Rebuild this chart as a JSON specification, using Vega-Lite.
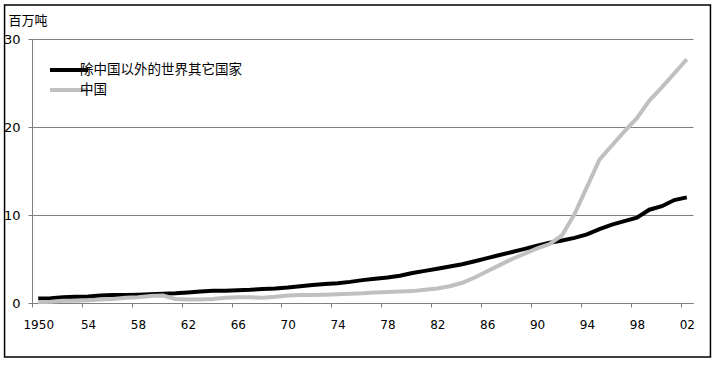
{
  "$schema": "https://vega.github.io/schema/vega-lite/v6.json",
  "width": 661,
  "height": 264,
  "autosize": {"type": "none"},
  "padding": {"left": 32, "top": 39, "right": 26, "bottom": 62},
  "background": "white",
  "config": {"view": {"stroke": null}, "font": "DejaVu Sans"},
  "datasets": {
    "fish": [
      {"year": 1950, "series": "除中国以外的世界其它国家", "value": 0.5},
      {"year": 1951, "series": "除中国以外的世界其它国家", "value": 0.55},
      {"year": 1952, "series": "除中国以外的世界其它国家", "value": 0.65},
      {"year": 1953, "series": "除中国以外的世界其它国家", "value": 0.7},
      {"year": 1954, "series": "除中国以外的世界其它国家", "value": 0.75},
      {"year": 1955, "series": "除中国以外的世界其它国家", "value": 0.85},
      {"year": 1956, "series": "除中国以外的世界其它国家", "value": 0.9},
      {"year": 1957, "series": "除中国以外的世界其它国家", "value": 0.9},
      {"year": 1958, "series": "除中国以外的世界其它国家", "value": 0.95},
      {"year": 1959, "series": "除中国以外的世界其它国家", "value": 1.0},
      {"year": 1960, "series": "除中国以外的世界其它国家", "value": 1.05},
      {"year": 1961, "series": "除中国以外的世界其它国家", "value": 1.1},
      {"year": 1962, "series": "除中国以外的世界其它国家", "value": 1.2},
      {"year": 1963, "series": "除中国以外的世界其它国家", "value": 1.3},
      {"year": 1964, "series": "除中国以外的世界其它国家", "value": 1.4},
      {"year": 1965, "series": "除中国以外的世界其它国家", "value": 1.4},
      {"year": 1966, "series": "除中国以外的世界其它国家", "value": 1.45},
      {"year": 1967, "series": "除中国以外的世界其它国家", "value": 1.5},
      {"year": 1968, "series": "除中国以外的世界其它国家", "value": 1.6},
      {"year": 1969, "series": "除中国以外的世界其它国家", "value": 1.65},
      {"year": 1970, "series": "除中国以外的世界其它国家", "value": 1.75},
      {"year": 1971, "series": "除中国以外的世界其它国家", "value": 1.9},
      {"year": 1972, "series": "除中国以外的世界其它国家", "value": 2.05},
      {"year": 1973, "series": "除中国以外的世界其它国家", "value": 2.15},
      {"year": 1974, "series": "除中国以外的世界其它国家", "value": 2.25},
      {"year": 1975, "series": "除中国以外的世界其它国家", "value": 2.4},
      {"year": 1976, "series": "除中国以外的世界其它国家", "value": 2.6},
      {"year": 1977, "series": "除中国以外的世界其它国家", "value": 2.75},
      {"year": 1978, "series": "除中国以外的世界其它国家", "value": 2.9},
      {"year": 1979, "series": "除中国以外的世界其它国家", "value": 3.1},
      {"year": 1980, "series": "除中国以外的世界其它国家", "value": 3.4},
      {"year": 1981, "series": "除中国以外的世界其它国家", "value": 3.65},
      {"year": 1982, "series": "除中国以外的世界其它国家", "value": 3.9},
      {"year": 1983, "series": "除中国以外的世界其它国家", "value": 4.15},
      {"year": 1984, "series": "除中国以外的世界其它国家", "value": 4.4},
      {"year": 1985, "series": "除中国以外的世界其它国家", "value": 4.75},
      {"year": 1986, "series": "除中国以外的世界其它国家", "value": 5.1},
      {"year": 1987, "series": "除中国以外的世界其它国家", "value": 5.45},
      {"year": 1988, "series": "除中国以外的世界其它国家", "value": 5.8},
      {"year": 1989, "series": "除中国以外的世界其它国家", "value": 6.15},
      {"year": 1990, "series": "除中国以外的世界其它国家", "value": 6.5},
      {"year": 1991, "series": "除中国以外的世界其它国家", "value": 6.85},
      {"year": 1992, "series": "除中国以外的世界其它国家", "value": 7.1},
      {"year": 1993, "series": "除中国以外的世界其它国家", "value": 7.4},
      {"year": 1994, "series": "除中国以外的世界其它国家", "value": 7.8},
      {"year": 1995, "series": "除中国以外的世界其它国家", "value": 8.4},
      {"year": 1996, "series": "除中国以外的世界其它国家", "value": 8.9},
      {"year": 1997, "series": "除中国以外的世界其它国家", "value": 9.3},
      {"year": 1998, "series": "除中国以外的世界其它国家", "value": 9.7},
      {"year": 1999, "series": "除中国以外的世界其它国家", "value": 10.6},
      {"year": 2000, "series": "除中国以外的世界其它国家", "value": 11.0},
      {"year": 2001, "series": "除中国以外的世界其它国家", "value": 11.7},
      {"year": 2002, "series": "除中国以外的世界其它国家", "value": 12.0},
      {"year": 1950, "series": "中国", "value": 0.1},
      {"year": 1951, "series": "中国", "value": 0.15},
      {"year": 1952, "series": "中国", "value": 0.25},
      {"year": 1953, "series": "中国", "value": 0.25},
      {"year": 1954, "series": "中国", "value": 0.3},
      {"year": 1955, "series": "中国", "value": 0.4},
      {"year": 1956, "series": "中国", "value": 0.45},
      {"year": 1957, "series": "中国", "value": 0.6},
      {"year": 1958, "series": "中国", "value": 0.65},
      {"year": 1959, "series": "中国", "value": 0.8},
      {"year": 1960, "series": "中国", "value": 0.85},
      {"year": 1961, "series": "中国", "value": 0.45},
      {"year": 1962, "series": "中国", "value": 0.4},
      {"year": 1963, "series": "中国", "value": 0.4},
      {"year": 1964, "series": "中国", "value": 0.45},
      {"year": 1965, "series": "中国", "value": 0.6},
      {"year": 1966, "series": "中国", "value": 0.65},
      {"year": 1967, "series": "中国", "value": 0.65},
      {"year": 1968, "series": "中国", "value": 0.6},
      {"year": 1969, "series": "中国", "value": 0.7},
      {"year": 1970, "series": "中国", "value": 0.85},
      {"year": 1971, "series": "中国", "value": 0.9},
      {"year": 1972, "series": "中国", "value": 0.9},
      {"year": 1973, "series": "中国", "value": 0.95},
      {"year": 1974, "series": "中国", "value": 1.0},
      {"year": 1975, "series": "中国", "value": 1.05},
      {"year": 1976, "series": "中国", "value": 1.1},
      {"year": 1977, "series": "中国", "value": 1.2},
      {"year": 1978, "series": "中国", "value": 1.25},
      {"year": 1979, "series": "中国", "value": 1.3},
      {"year": 1980, "series": "中国", "value": 1.35},
      {"year": 1981, "series": "中国", "value": 1.5},
      {"year": 1982, "series": "中国", "value": 1.65},
      {"year": 1983, "series": "中国", "value": 1.9},
      {"year": 1984, "series": "中国", "value": 2.3},
      {"year": 1985, "series": "中国", "value": 2.9},
      {"year": 1986, "series": "中国", "value": 3.6},
      {"year": 1987, "series": "中国", "value": 4.3},
      {"year": 1988, "series": "中国", "value": 5.0},
      {"year": 1989, "series": "中国", "value": 5.6},
      {"year": 1990, "series": "中国", "value": 6.2},
      {"year": 1991, "series": "中国", "value": 6.7},
      {"year": 1992, "series": "中国", "value": 7.7},
      {"year": 1993, "series": "中国", "value": 10.1},
      {"year": 1994, "series": "中国", "value": 13.2},
      {"year": 1995, "series": "中国", "value": 16.3},
      {"year": 1996, "series": "中国", "value": 17.9},
      {"year": 1997, "series": "中国", "value": 19.5},
      {"year": 1998, "series": "中国", "value": 21.0},
      {"year": 1999, "series": "中国", "value": 23.0},
      {"year": 2000, "series": "中国", "value": 24.5},
      {"year": 2001, "series": "中国", "value": 26.1},
      {"year": 2002, "series": "中国", "value": 27.7}
    ],
    "frame": [{"name": "frame"}]
  },
  "layer": [
    {
      "data": {"name": "frame"},
      "mark": {"type": "rect", "filled": false, "stroke": "#000000", "strokeWidth": 1.5},
      "encoding": {
        "x": {"datum": 1947.3, "type": "quantitative"},
        "x2": {"datum": 2003.9},
        "y": {"datum": 33.86, "type": "quantitative"},
        "y2": {"datum": -6.14}
      }
    },
    {
      "data": {"name": "fish"},
      "mark": {"type": "line", "strokeWidth": 4},
      "encoding": {
        "x": {
          "field": "year",
          "type": "quantitative",
          "scale": {"domain": [1949.5, 2002.5], "nice": false, "zero": false},
          "axis": {
            "title": null,
            "values": [1949.5, 1950.5, 1951.5, 1952.5, 1953.5, 1954.5, 1955.5, 1956.5, 1957.5, 1958.5, 1959.5, 1960.5, 1961.5, 1962.5, 1963.5, 1964.5, 1965.5, 1966.5, 1967.5, 1968.5, 1969.5, 1970.5, 1971.5, 1972.5, 1973.5, 1974.5, 1975.5, 1976.5, 1977.5, 1978.5, 1979.5, 1980.5, 1981.5, 1982.5, 1983.5, 1984.5, 1985.5, 1986.5, 1987.5, 1988.5, 1989.5, 1990.5, 1991.5, 1992.5, 1993.5, 1994.5, 1995.5, 1996.5, 1997.5, 1998.5, 1999.5, 2000.5, 2001.5, 2002.5],
            "labelExpr": "(datum.value + 0.5 - 1950) % 4 == 0 ? (datum.value == 1949.5 ? '1950' : substring(toString(datum.value + 0.5), 2, 4)) : ''",
            "labelOffset": 6.24,
            "grid": false,
            "tickSize": 4,
            "tickColor": "#808080",
            "domainColor": "#808080",
            "labelFont": "DejaVu Sans",
            "labelFontSize": 12,
            "labelColor": "#000000",
            "labelPadding": 12,
            "labelOverlap": false,
            "labelFlush": false,
            "labelBound": false
          }
        },
        "y": {
          "field": "value",
          "type": "quantitative",
          "scale": {"domain": [0, 30], "nice": false},
          "axis": {
            "values": [0, 10, 20, 30],
            "grid": true,
            "gridColor": "#808080",
            "gridWidth": 1,
            "domainColor": "#808080",
            "tickColor": "#808080",
            "tickSize": 4,
            "labelFont": "DejaVu Sans",
            "labelFontSize": 13,
            "labelColor": "#000000",
            "labelPadding": 8,
            "title": "百万吨",
            "titleAngle": 0,
            "titleX": -24,
            "titleY": -19,
            "titleAlign": "left",
            "titleBaseline": "middle",
            "titleFont": "Noto Sans CJK SC",
            "titleFontSize": 13,
            "titleFontWeight": "normal",
            "titleColor": "#000000"
          }
        },
        "color": {
          "field": "series",
          "type": "nominal",
          "scale": {"domain": ["除中国以外的世界其它国家", "中国"], "range": ["#000000", "#c0c0c0"]},
          "legend": {
            "orient": "none",
            "legendX": 30,
            "legendY": 24,
            "title": null,
            "symbolType": "M-3.8,0H3.8",
            "symbolSize": 100,
            "symbolStrokeWidth": 4,
            "labelFont": "Noto Sans CJK SC",
            "labelFontSize": 13.5,
            "labelColor": "#000000",
            "labelOffset": 4,
            "labelLimit": 400,
            "rowPadding": 4,
            "padding": 0
          }
        }
      }
    }
  ]
}
